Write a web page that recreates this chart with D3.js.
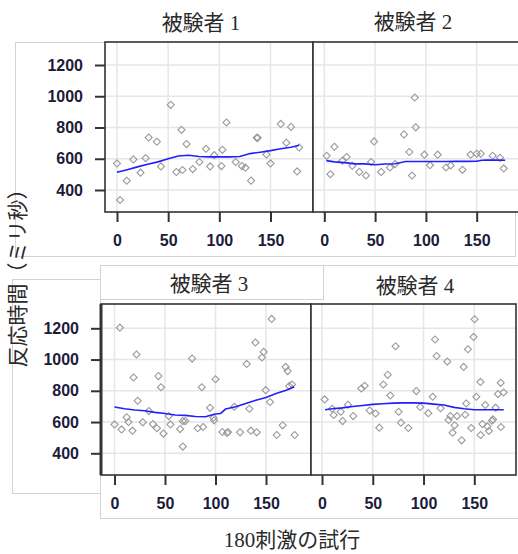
<!DOCTYPE html>
<meta charset="utf-8">
<style>
body { margin: 0; background: #fff; }
.grid line { stroke: #e6e6e6; stroke-width: 1.5px; }
.axis text { font-family: "Liberation Sans", Arial, sans-serif; font-size: 16px; font-weight: bold; fill: #1c1c3a; }
.axis line { stroke: #333; stroke-width: 2px; }
.axis path { display: none; }
.title { font-family: "Liberation Serif", "Noto Sans CJK JP", serif; font-size: 21px; fill: #2a2a2a; text-anchor: middle; }
.pt { fill: none; stroke: #9a9a9a; stroke-width: 1.1px; }
.fit { fill: none; stroke: #1f1fff; stroke-width: 1.6px; }
.box { fill: none; stroke: #d2d2d2; stroke-width: 1px; }
</style>
<svg width="518" height="554"></svg>
<script src="https://cdn.jsdelivr.net/npm/d3@7"></script>
<script>

// tick values
var xTicks = [0, 50, 100, 150],
    yTicks = [400, 600, 800, 1000, 1200];

// 被験者 1
var trial1 = [0, 3, 9.5, 16, 23, 28, 31, 39, 43, 52.5, 58, 64, 63, 68, 74, 80.5, 87, 91, 95, 102, 103, 107, 116, 122, 125.5, 131, 136.5, 137.5, 146, 150, 160, 165.5, 170, 176, 178];
var rt1 = [570, 336, 460, 596, 511, 604, 736, 709, 551, 945, 515, 528, 785, 694, 534, 579, 664, 551, 623, 553, 657, 832, 579, 553, 543, 460, 734, 734, 628, 570, 823, 702, 804, 519, 672];
var fitX1 = [0, 10, 20, 30, 40, 50, 60, 70, 80, 90, 100, 110, 120, 130, 140, 150, 160, 170, 178];
var fitY1 = [513, 530, 548, 565, 580, 600, 618, 622, 614, 612, 612, 612, 614, 633, 642, 652, 664, 674, 686];

// 被験者 2
var trial2 = [2.3, 6, 10, 17.7, 22, 27.6, 34.5, 41, 46, 49, 56, 64.6, 69.6, 78.4, 83.7, 86.3, 89, 90, 98.5, 104, 111.6, 119.8, 124.4, 136, 144, 150, 154, 165.7, 173, 176.6];
var rt2 = [619, 501, 677, 587, 611, 555, 516, 493, 579, 711, 516, 544, 566, 756, 643, 493, 992, 801, 626, 559, 626, 544, 557, 529, 626, 632, 632, 619, 606, 538];
var fitX2 = [2, 10, 20, 30, 40, 50, 60, 70, 80, 90, 100, 110, 120, 130, 140, 150, 155, 160, 170, 178];
var fitY2 = [588, 580, 575, 567, 567, 562, 566, 568, 582, 582, 582, 582, 582, 583, 583, 584, 590, 591, 591, 590];

// 被験者 3
var trial3 = [0, 5.3, 7, 12, 13.8, 17.8, 18.8, 21.8, 23, 28, 34, 38, 42, 43.5, 46, 48.5, 53.7, 55.4, 65, 67.6, 67.6, 70, 76.8, 82.4, 86.4, 87.7, 94.6, 98, 98.6, 100, 106.8, 111.4, 112.4, 124.3, 118.7, 130.9, 133.5, 135, 139.5, 140.8, 146, 147.7, 149.7, 154, 155.6, 160.6, 166.5, 169.5, 171.4, 173, 175.7, 178.4];
var rt3 = [585, 1204, 553, 630, 600, 545, 885, 1032, 736, 598, 670, 587, 560, 894, 823, 526, 638, 585, 555, 443, 606, 606, 1006, 560, 823, 568, 691, 628, 611, 874, 536, 530, 536, 534, 698, 972, 685, 545, 1109, 534, 1013, 1049, 804, 728, 1260, 517, 579, 953, 926, 830, 840, 517];
var fitX3 = [0, 10, 20, 30, 40, 50, 60, 70, 80, 90, 100, 105, 110, 120, 130, 140, 150, 160, 170, 178];
var fitY3 = [696, 685, 677, 672, 662, 655, 645, 643, 636, 634, 651, 655, 683, 698, 719, 740, 757, 783, 804, 826];

// 被験者 4
var trial4 = [2.6, 10, 11.5, 18.4, 20.3, 25.6, 30.8, 38.7, 42, 47, 52.8, 56.4, 60.4, 64.7, 67.3, 72.5, 75.5, 77.8, 85, 92.9, 96.8, 104.7, 109, 111.3, 112.9, 116.8, 123.4, 124.7, 126.4, 128.6, 130.6, 133, 137.5, 139.5, 141, 142, 143.7, 147, 149.3, 150.3, 152, 156, 156.2, 158, 160.8, 163, 164.4, 167.4, 168.4, 171, 173.3, 176, 176.2, 178.9];
var rt4 = [745, 685, 645, 666, 606, 711, 638, 815, 832, 674, 655, 564, 840, 902, 770, 1085, 666, 596, 562, 798, 696, 657, 762, 1128, 1023, 689, 987, 613, 638, 532, 579, 638, 483, 953, 647, 719, 1066, 562, 1145, 1258, 762, 857, 517, 587, 709, 572, 543, 609, 617, 692, 779, 851, 568, 789];
var fitX4 = [3, 10, 20, 30, 40, 50, 60, 70, 80, 90, 100, 110, 120, 130, 140, 150, 160, 170, 179];
var fitY4 = [679, 685, 691, 700, 706, 713, 717, 721, 723, 723, 721, 715, 709, 694, 685, 679, 679, 679, 679];

var titles = ["被験者 1", "被験者 2", "被験者 3", "被験者 4"];

var svg = d3.select("svg");

// faint frames left over from the pasted screenshots
var boxes = [[15, 42, 500, 214], [100, 265, 420, 253], [12, 279, 88, 214], [100, 265, 223, 34]];
svg.selectAll(".box")
  .data(boxes)
  .enter().append("rect")
    .attr("class", "box")
    .attr("x", function(d) { return d[0] + 0.5; })
    .attr("y", function(d) { return d[1] + 0.5; })
    .attr("width", function(d) { return d[2]; })
    .attr("height", function(d) { return d[3]; });

var panels = [
  {x0: 105, x1: 313, y0: 42, y1: 212, xa: 117, xb: 270.5, ya: 190, yb: 65, left: true, tx: 201, ty: 30, tx1: trial1, ry: rt1, fx: fitX1, fy: fitY1},
  {x0: 313, x1: 520, y0: 42, y1: 212, xa: 324.3, xb: 476.7, ya: 190, yb: 65, left: false, tx: 413, ty: 29, tx1: trial2, ry: rt2, fx: fitX2, fy: fitY2},
  {x0: 101, x1: 311, y0: 304, y1: 475, xa: 114.5, xb: 266, ya: 453.3, yb: 328.3, left: true, tx: 209, ty: 291, tx1: trial3, ry: rt3, fx: fitX3, fy: fitY3},
  {x0: 311, x1: 516, y0: 304, y1: 475, xa: 322, xb: 474.3, ya: 453.3, yb: 328.3, left: false, tx: 415, ty: 293, tx1: trial4, ry: rt4, fx: fitX4, fy: fitY4}
];

var diamond = d3.symbol().type(d3.symbolSquare).size(25);

panels.forEach(function(p, i) {
  var x = d3.scaleLinear().domain([0, 150]).range([p.xa, p.xb]),
      y = d3.scaleLinear().domain([400, 1200]).range([p.ya, p.yb]);

  var g = svg.append("g");

  g.append("rect")
      .attr("x", p.x0).attr("y", p.y0)
      .attr("width", p.x1 - p.x0).attr("height", p.y1 - p.y0)
      .attr("fill", "#fff");

  var grid = g.append("g").attr("class", "grid");
  grid.selectAll(".gx").data(xTicks).enter().append("line")
      .attr("x1", x).attr("x2", x)
      .attr("y1", p.y0).attr("y2", p.y1);
  grid.selectAll(".gy").data(yTicks).enter().append("line")
      .attr("x1", p.x0).attr("x2", p.x1)
      .attr("y1", y).attr("y2", y);

  g.selectAll(".pt")
    .data(p.tx1.map(function(t, j) { return [t, p.ry[j]]; }))
    .enter().append("path")
      .attr("class", "pt")
      .attr("d", diamond)
      .attr("transform", function(d) { return "translate(" + x(d[0]) + "," + y(d[1]) + ") rotate(45)"; });

  var line = d3.line()
      .x(function(d) { return x(d[0]); })
      .y(function(d) { return y(d[1]); });

  g.append("path")
      .attr("class", "fit")
      .attr("d", line(p.fx.map(function(t, j) { return [t, p.fy[j]]; })));

  g.append("rect")
      .attr("x", p.x0).attr("y", p.y0)
      .attr("width", p.x1 - p.x0).attr("height", p.y1 - p.y0)
      .attr("fill", "none")
      .attr("stroke", "#333")
      .attr("stroke-width", 1.6);

  g.append("g")
      .attr("class", "axis")
      .attr("transform", "translate(0," + p.y1 + ")")
      .call(d3.axisBottom(x).tickValues(xTicks).tickFormat(d3.format("d")).tickSize(10).tickPadding(13));

  if (p.left) {
    g.append("g")
        .attr("class", "axis")
        .attr("transform", "translate(" + p.x0 + ",0)")
        .call(d3.axisLeft(y).tickValues(yTicks).tickFormat(d3.format("d")).tickSize(10).tickPadding(12));
  }

  g.append("text")
      .attr("class", "title")
      .attr("x", p.tx)
      .attr("y", p.ty)
      .text(titles[i]);
});

// heavier left edge on panel 3
svg.append("line")
    .attr("x1", 101).attr("x2", 101)
    .attr("y1", 304).attr("y2", 475)
    .attr("stroke", "#333").attr("stroke-width", 3);

svg.append("text")
    .attr("class", "title")
    .attr("transform", "translate(25,273) rotate(-90)")
    .text("反応時間（ミリ秒）");

svg.append("text")
    .attr("class", "title")
    .attr("x", 292)
    .attr("y", 547)
    .text("180刺激の試行");

</script>
